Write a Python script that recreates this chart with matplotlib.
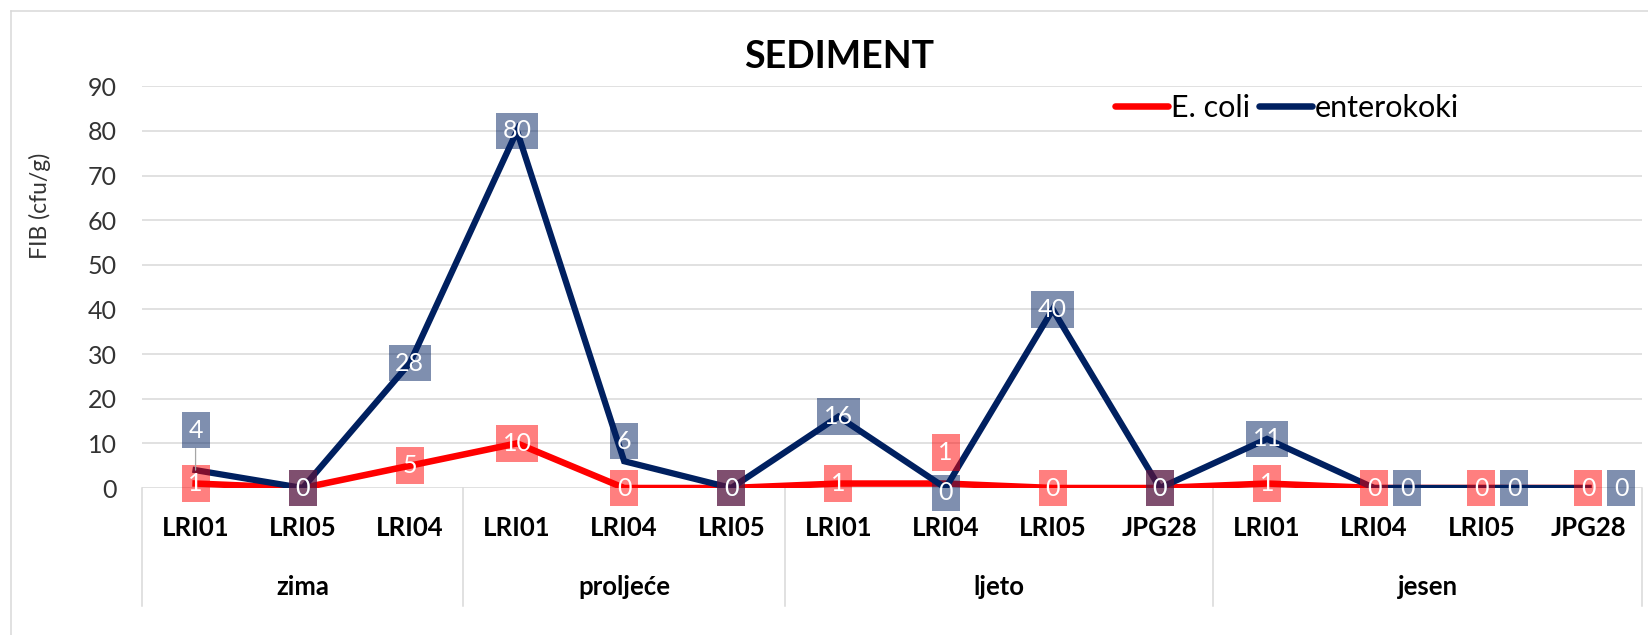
import matplotlib
matplotlib.use('Agg')
import matplotlib.pyplot as plt
from matplotlib.lines import Line2D
from matplotlib.colors import to_rgba
import numpy as np

# ---------------- data ----------------
seasons = ['zima', 'proljeće', 'ljeto', 'jesen']
stations = [['LRI01', 'LRI05', 'LRI04'],
            ['LRI01', 'LRI04', 'LRI05'],
            ['LRI01', 'LRI04', 'LRI05', 'JPG28'],
            ['LRI01', 'LRI04', 'LRI05', 'JPG28']]
ecoli = [1, 0, 5, 10, 0, 0, 1, 1, 0, 0, 1, 0, 0, 0]
enterokoki = [4, 0, 28, 80, 6, 0, 16, 0, 40, 0, 11, 0, 0, 0]
y_ticks = [0, 10, 20, 30, 40, 50, 60, 70, 80, 90]
series_names = ['E. coli', 'enterokoki']
title = 'SEDIMENT'
y_label = 'FIB (cfu/g)'

# ---------------- style ----------------
plt.rcParams['font.family'] = ['Lato', 'DejaVu Sans']
W, H = 1649, 635
RED = '#ff0000'
NAVY = '#002060'
GRID = '#d9d9d9'

# label offsets in pixels (dx, dy) for particular points; default centred
ecoli_off = {7: (0, 31)}
entero_off = {0: (0, 40), 4: (0, 20), 7: (0, -5), 11: (33, 0), 12: (33, 0), 13: (33, 0)}
leader_idx = {0}

fig = plt.figure(figsize=(W / 100, H / 100), dpi=100)
ax = fig.add_axes([142 / W, (H - 488) / H, 1500 / W, 401.7 / H])

cats = [s for grp in stations for s in grp]
x = np.arange(len(cats)) + 0.5

ax.plot(x, ecoli, color=RED, lw=4.7, zorder=3, solid_joinstyle='miter')
ax.plot(x, enterokoki, color=NAVY, lw=4.5, zorder=4, solid_joinstyle='miter')

ax.set_xlim(0, len(cats))
ax.set_ylim(0, 90)
ax.set_yticks(y_ticks)
ax.set_yticklabels([str(v) for v in y_ticks], fontsize=18, color='#333333')
ax.tick_params(axis='y', length=0, pad=18)
ax.set_xticks([])
ax.grid(axis='y', color=GRID, lw=1.1, zorder=0)
ax.set_axisbelow(True)
for sp in ax.spines.values():
    sp.set_visible(False)


def put_label(xi, yi, val, color, off, leader=False):
    kw = {}
    if leader:
        kw['arrowprops'] = dict(arrowstyle='-', color='#a6a6a6', lw=0.9,
                                shrinkA=0, shrinkB=0)
    ax.annotate(str(val), xy=(xi, yi), xytext=off, textcoords='offset pixels',
                ha='center', va='center', color='white', fontsize=18,
                bbox=dict(boxstyle='square,pad=0.27', fc=to_rgba(color, 0.5), ec='none'),
                zorder=6, annotation_clip=False, **kw)


for i, v in enumerate(ecoli):
    put_label(x[i], v, v, RED, ecoli_off.get(i, (0, 0)))
for i, v in enumerate(enterokoki):
    put_label(x[i], v, v, NAVY, entero_off.get(i, (0, 0)), leader=(i in leader_idx))

# category labels and season labels
trans = ax.get_xaxis_transform()
ax_h = 401.7
for xi, c in zip(x, cats):
    ax.text(xi, -40 / ax_h, c, transform=trans, ha='center', va='center',
            fontsize=18.5, fontweight='bold', color='black')
start = 0
bounds = [0]
for s, grp in zip(seasons, stations):
    mid = start + len(grp) / 2
    ax.text(mid, -99 / ax_h, s, transform=trans, ha='center', va='center',
            fontsize=18.5, fontweight='bold', color='black')
    start += len(grp)
    bounds.append(start)
for b in bounds:
    ax.plot([b, b], [0, -118 / ax_h], transform=trans, color=GRID, lw=1.1,
            clip_on=False, zorder=1)

# title, axis label
fig.text(839 / W, 1 - 57 / H, title, ha='center', va='center', fontsize=27,
         fontweight='bold', color='black')
fig.text(40 / W, 1 - 206 / H, y_label, ha='center', va='center', rotation=90,
         fontsize=16.5, color='#333333')

# legend
handles = [Line2D([], [], color=RED, lw=4.7, solid_capstyle='round'),
           Line2D([], [], color=NAVY, lw=4.7, solid_capstyle='round')]
fig.legend(handles, series_names, ncol=2, loc='center',
           bbox_to_anchor=(1287 / W, 1 - 108 / H), frameon=False, fontsize=22,
           handlelength=1.75, handletextpad=0.08, columnspacing=0.3,
           borderpad=0, borderaxespad=0)

# outer chart frame (left and top edges visible)
fig.add_artist(Line2D([11 / W, 11 / W], [0, 1 - 11 / H], color=GRID, lw=1.1))
fig.add_artist(Line2D([11 / W, 1], [1 - 11 / H, 1 - 11 / H], color=GRID, lw=1.1))

fig.savefig('out.png', dpi=100)
